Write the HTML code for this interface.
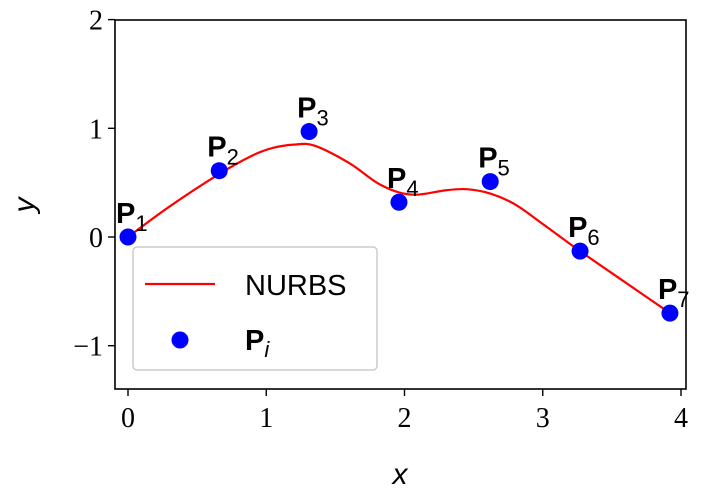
<!DOCTYPE html>
<html><head><meta charset="utf-8"><style>
body{margin:0;background:#fff}
svg text{font-family:"Liberation Sans",sans-serif}
.tick{font-family:"Liberation Serif",serif;font-size:28px}
</style></head><body>
<svg id="c" width="713" height="492" xmlns="http://www.w3.org/2000/svg">
<rect x="0" y="0" width="713" height="492" fill="#fff"/>
<g id="plot"></g>
</svg>
<script>
const ctrlX=[0,0.66,1.31,1.96,2.62,3.27,3.92];
const ctrlY=[0,0.61,0.97,0.32,0.51,-0.13,-0.70];
const ctrlLabels=["1","2","3","4","5","6","7"];
const curveX=[0,0.3,0.66,0.9,1.05,1.2,1.35,1.6,1.8,1.96,2.1,2.3,2.45,2.62,2.8,3.0,3.27,3.6,3.92];
const curveY=[0,0.28,0.58,0.75,0.82,0.85,0.84,0.68,0.5,0.41,0.39,0.43,0.44,0.40,0.30,0.12,-0.13,-0.42,-0.70];
const xTicks=[0,1,2,3,4];
const yTicks=[2,1,0,-1];
const yTickLabels=["2","1","0","\u22121"];
const NS="http://www.w3.org/2000/svg";
const L=115,R=686,T=20,B=389;
function sx(v){return 128+v*(681-128)/4;}
function sy(v){return 237-v*108.7;}
const g=document.getElementById('plot');
function mk(t,a,p){const e=document.createElementNS(NS,t);for(const k in a)e.setAttribute(k,a[k]);(p||g).appendChild(e);return e;}
let pts=curveX.map((x,i)=>[sx(x),sy(curveY[i])]);
let d="M"+pts[0][0]+","+pts[0][1];
for(let i=0;i<pts.length-1;i++){const p0=pts[Math.max(0,i-1)],p1=pts[i],p2=pts[i+1],p3=pts[Math.min(pts.length-1,i+2)];
d+=" C"+(p1[0]+(p2[0]-p0[0])/6)+","+(p1[1]+(p2[1]-p0[1])/6)+" "+(p2[0]-(p3[0]-p1[0])/6)+","+(p2[1]-(p3[1]-p1[1])/6)+" "+p2[0]+","+p2[1];}
const cv=mk('path',{d:d,fill:'none',stroke:'#ff0000','stroke-width':2.2});


ctrlX.forEach((x,i)=>{
 const c=mk('circle',{cx:sx(x),cy:sy(ctrlY[i]),r:8.5,fill:'#0000ff'});
 
 
 const t=mk('text',{x:sx(x)-12,y:sy(ctrlY[i])-14,'font-size':29,'font-weight':'bold'});
 
 
 t.innerHTML='P<tspan dy="8" font-size="22" font-weight="normal">'+ctrlLabels[i]+'</tspan>';
});
const fr=mk('rect',{x:L,y:T,width:R-L,height:B-T,fill:'none',stroke:'#000','stroke-width':1.6});


xTicks.forEach(v=>{
 mk('line',{x1:sx(v),x2:sx(v),y1:B,y2:B+7,stroke:'#000','stroke-width':1.4});
 const t=mk('text',{x:sx(v),y:B+38,'text-anchor':'middle',class:'tick'});t.textContent=v;
 
 
});
yTicks.forEach((v,i)=>{
 mk('line',{x1:L-7,x2:L,y1:sy(v),y2:sy(v),stroke:'#000','stroke-width':1.4});
 const t=mk('text',{x:L-12,y:sy(v)+10,'text-anchor':'end',class:'tick'});t.textContent=yTickLabels[i];
 
 
});
const xl=mk('text',{x:400,y:484,'text-anchor':'middle','font-size':30,'font-style':'italic'});xl.textContent='x';


const yl=mk('text',{x:0,y:0,'text-anchor':'middle','font-size':30,'font-style':'italic',transform:'translate(34,205) rotate(-90)'});yl.textContent='y';


const lg=mk('g',{});


mk('rect',{x:133,y:247,width:244,height:123,rx:4,fill:'#fff','fill-opacity':0.8,stroke:'#ccc','stroke-width':1.5},lg);
mk('line',{x1:145,x2:215,y1:284,y2:284,stroke:'#ff0000','stroke-width':2.2},lg);
const l1=mk('text',{x:245,y:295,'font-size':29},lg);l1.textContent='NURBS';


mk('circle',{cx:180,cy:340,r:8.5,fill:'#0000ff'},lg);
const l2=mk('text',{x:245,y:350,'font-size':29,'font-weight':'bold'},lg);
l2.innerHTML='P<tspan dy="7" font-size="22" font-weight="normal" font-style="italic">i</tspan>';


</script>
</body></html>
